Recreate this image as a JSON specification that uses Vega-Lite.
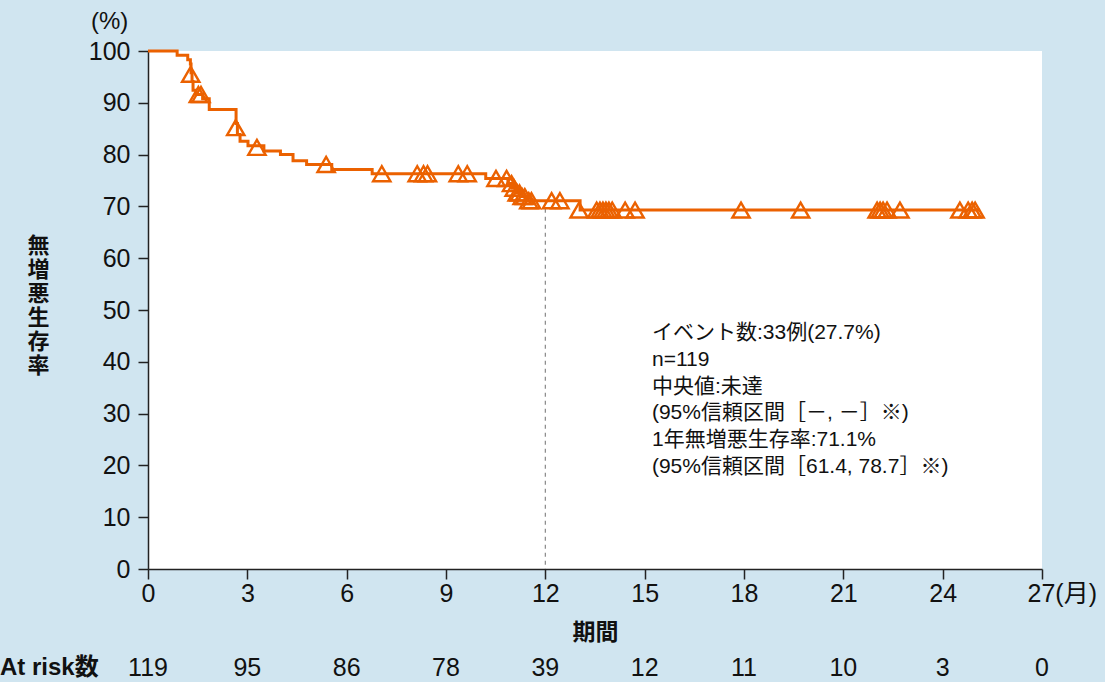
{
  "$schema": "https://vega.github.io/schema/vega-lite/v6.json",
  "width": 894,
  "height": 518,
  "autosize": "none",
  "padding": {"left": 148, "top": 51, "right": 63, "bottom": 113},
  "background": "#d0e5f0",
  "config": {
    "view": {"fill": "white", "stroke": null},
    "font": "Liberation Sans, Noto Sans CJK JP"
  },
  "title": {
    "text": "(%)",
    "anchor": "start",
    "frame": "group",
    "dx": -57,
    "offset": 5,
    "fontSize": 24,
    "fontWeight": "normal",
    "color": "#111"
  },
  "datasets": {
    "curve": [
      {"t": 0, "s": 100}, {"t": 0.88, "s": 99.2}, {"t": 1.2, "s": 98.3}, {"t": 1.28, "s": 97.5},
      {"t": 1.3, "s": 95.8}, {"t": 1.33, "s": 94.1}, {"t": 1.36, "s": 92.4}, {"t": 1.45, "s": 91.6},
      {"t": 1.65, "s": 90.8}, {"t": 1.85, "s": 88.7}, {"t": 2.66, "s": 86.0}, {"t": 2.7, "s": 83.9},
      {"t": 2.78, "s": 82.6}, {"t": 3.02, "s": 81.7}, {"t": 3.5, "s": 80.7}, {"t": 4.0, "s": 80.0},
      {"t": 4.38, "s": 78.8}, {"t": 4.79, "s": 78.1}, {"t": 5.55, "s": 77.1}, {"t": 6.77, "s": 76.3},
      {"t": 10.2, "s": 75.4}, {"t": 10.87, "s": 74.4}, {"t": 11.0, "s": 73.5}, {"t": 11.12, "s": 72.6},
      {"t": 11.25, "s": 71.9}, {"t": 11.4, "s": 71.1}, {"t": 13.05, "s": 69.3}, {"t": 25.13, "s": 69.3}
    ],
    "censor": [
      {"t": 1.29, "s": 95.5}, {"t": 1.52, "s": 91.6}, {"t": 1.6, "s": 91.6}, {"t": 2.65, "s": 85.2},
      {"t": 3.29, "s": 81.4}, {"t": 5.38, "s": 78.1}, {"t": 7.06, "s": 76.3}, {"t": 8.13, "s": 76.3},
      {"t": 8.32, "s": 76.3}, {"t": 8.44, "s": 76.3}, {"t": 9.37, "s": 76.3}, {"t": 9.64, "s": 76.3},
      {"t": 10.51, "s": 75.4}, {"t": 10.83, "s": 75.4}, {"t": 10.98, "s": 74.4}, {"t": 11.06, "s": 73.5},
      {"t": 11.15, "s": 72.6}, {"t": 11.22, "s": 72.6}, {"t": 11.3, "s": 71.9}, {"t": 11.38, "s": 71.9},
      {"t": 11.5, "s": 71.1}, {"t": 11.58, "s": 71.1}, {"t": 12.19, "s": 71.1}, {"t": 12.44, "s": 71.1},
      {"t": 13.02, "s": 69.3}, {"t": 13.55, "s": 69.3}, {"t": 13.65, "s": 69.3}, {"t": 13.74, "s": 69.3},
      {"t": 13.83, "s": 69.3}, {"t": 13.92, "s": 69.3}, {"t": 14.02, "s": 69.3}, {"t": 14.41, "s": 69.3},
      {"t": 14.71, "s": 69.3}, {"t": 17.91, "s": 69.3}, {"t": 19.71, "s": 69.3}, {"t": 22.02, "s": 69.3},
      {"t": 22.11, "s": 69.3}, {"t": 22.2, "s": 69.3}, {"t": 22.32, "s": 69.3}, {"t": 22.71, "s": 69.3},
      {"t": 24.52, "s": 69.3}, {"t": 24.77, "s": 69.3}, {"t": 24.89, "s": 69.3}, {"t": 24.98, "s": 69.3}
    ],
    "ref": [{"t": 12, "s": 71.1}],
    "risk": [
      {"t": 0, "n": "119"}, {"t": 3, "n": "95"}, {"t": 6, "n": "86"}, {"t": 9, "n": "78"}, {"t": 12, "n": "39"},
      {"t": 15, "n": "12"}, {"t": 18, "n": "11"}, {"t": 21, "n": "10"}, {"t": 24, "n": "3"}, {"t": 27, "n": "0"}
    ],
    "riskLabel": [{"label": "At risk数"}],
    "note": [
      {"t": 15.22, "s": 47.7, "text": ["イベント数:33例(27.7%)", "n=119", "中央値:未達", "(95%信頼区間［－, －］※)", "1年無増悪生存率:71.1%", "(95%信頼区間［61.4, 78.7］※)"]}
    ]
  },
  "encoding": {
    "x": {
      "field": "t",
      "type": "quantitative",
      "scale": {"domain": [0, 27], "nice": false, "zero": false},
      "axis": {
        "values": [0, 3, 6, 9, 12, 15, 18, 21, 24, 27],
        "grid": false,
        "title": "期間",
        "titleFontSize": 23,
        "titleFontWeight": "bold",
        "titleColor": "#111",
        "titleX": 447,
        "titleY": 63,
        "titleBaseline": "middle",
        "titleAlign": "center",
        "labelFontSize": 25,
        "labelColor": "#111",
        "labelPadding": 2,
        "labelExpr": "datum.value == 27 ? '27(月)' : datum.label",
        "labelAlign": {"condition": {"test": "datum.value == 27", "value": "left"}, "value": "center"},
        "labelOffset": {"condition": {"test": "datum.value == 27", "value": -15}, "value": 0},
        "tickSize": 10,
        "tickColor": "#222",
        "domainColor": "#222",
        "domainWidth": 1.5,
        "tickWidth": 1.5,
        "labelFlush": false,
        "labelOverlap": false
      }
    },
    "y": {
      "field": "s",
      "type": "quantitative",
      "scale": {"domain": [0, 100], "nice": false},
      "axis": {
        "values": [0, 10, 20, 30, 40, 50, 60, 70, 80, 90, 100],
        "grid": false,
        "title": ["無", "増", "悪", "生", "存", "率"],
        "titleAngle": 0,
        "titleFontSize": 22,
        "titleFontWeight": "bold",
        "titleColor": "#111",
        "titleLineHeight": 24,
        "titleX": -110,
        "titleY": 184,
        "titleAlign": "center",
        "titleBaseline": "top",
        "labelFontSize": 25,
        "labelColor": "#111",
        "labelPadding": 8,
        "tickSize": 10,
        "tickColor": "#222",
        "tickWidth": 1.5,
        "domainColor": "#222",
        "domainWidth": 1.5,
        "labelFlush": false,
        "labelOverlap": false
      }
    }
  },
  "layer": [
    {
      "data": {"name": "ref"},
      "mark": {"type": "rule", "color": "#888", "strokeDash": [4, 4], "strokeWidth": 1.2},
      "encoding": {"y2": {"datum": 0}}
    },
    {
      "data": {"name": "curve"},
      "mark": {"type": "line", "interpolate": "step-after", "color": "#eb6100", "strokeWidth": 3}
    },
    {
      "data": {"name": "censor"},
      "mark": {"type": "point", "shape": "triangle-up", "size": 300, "filled": false, "color": "#eb6100", "strokeWidth": 2.4, "opacity": 1}
    },
    {
      "data": {"name": "note"},
      "mark": {"type": "text", "align": "left", "baseline": "top", "fontSize": 21, "lineHeight": 26.8, "font": "Liberation Sans, Noto Sans CJK JP", "color": "#111"},
      "encoding": {"text": {"field": "text"}}
    },
    {
      "data": {"name": "risk"},
      "mark": {"type": "text", "fontSize": 25, "color": "#111", "baseline": "middle", "align": "center"},
      "encoding": {"y": {"value": 617}, "text": {"field": "n"}}
    },
    {
      "data": {"name": "riskLabel"},
      "mark": {"type": "text", "fontSize": 24, "fontWeight": "bold", "color": "#111", "baseline": "middle", "align": "left"},
      "encoding": {"x": {"value": -148}, "y": {"value": 617}, "text": {"field": "label"}}
    }
  ]
}
